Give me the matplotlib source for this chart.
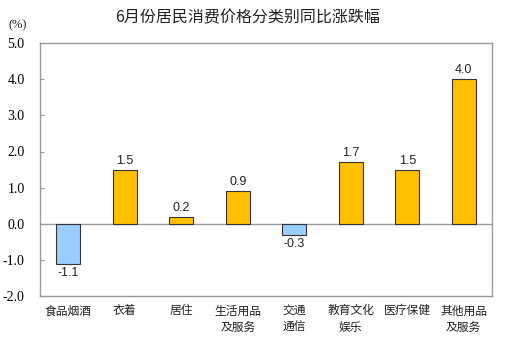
import matplotlib
matplotlib.use("Agg")
import matplotlib.pyplot as plt

categories = ["食品烟酒", "衣着", "居住", "生活用品\n及服务", "交通\n通信", "教育文化\n娱乐", "医疗保健", "其他用品\n及服务"]
values = [-1.1, 1.5, 0.2, 0.9, -0.3, 1.7, 1.5, 4.0]
yticks = [-2.0, -1.0, 0.0, 1.0, 2.0, 3.0, 4.0, 5.0]
title = "6月份居民消费价格分类别同比涨跌幅"

cjk = ["Noto Sans CJK SC", "DejaVu Sans"]
plt.rcParams['font.family'] = cjk

fig = plt.figure(figsize=(5.09, 3.5), dpi=100)
ax = fig.add_axes([0.0786, 0.154, 0.888, 0.723])

x = list(range(len(values)))
colors = ["#FFC000" if v >= 0 else "#99CCFF" for v in values]
ax.bar(x, values, width=0.42, color=colors, edgecolor="#333333", linewidth=0.8, zorder=3)

for xi, v in zip(x, values):
    if v >= 0:
        ax.text(xi, v + 0.08, f"{v:.1f}", ha="center", va="bottom", fontsize=9,
                family=["Liberation Sans"], color="#222222")
    else:
        ax.text(xi, v - 0.1, f"{v:.1f}", ha="center", va="top", fontsize=9,
                family=["Liberation Sans"], color="#222222")

ax.axhline(0, color="#999999", linewidth=1.0, zorder=2)
ax.set_xlim(-0.5, len(values) - 0.5)
ax.set_ylim(-2, 5)
ax.set_yticks(yticks)
ax.set_yticklabels([f"{t:.1f}" for t in yticks], family=["Liberation Serif"], fontsize=10)
ax.set_xticks(x)
ax.set_xticklabels(categories, fontsize=8.5, linespacing=1.35, color="#222222")
ax.tick_params(axis="x", length=0, pad=6)
ax.tick_params(axis="y", length=3, direction="in", color="#999999", pad=11)
for s in ax.spines.values():
    s.set_color("#999999")
    s.set_linewidth(1.0)

fig.text(0.487, 0.95, title, ha="center", va="center", fontsize=11.5, color="#222222")
fig.text(0.016, 0.928, "(%)", ha="left", va="center", fontsize=9, family=["Liberation Serif"], color="#222222")

fig.savefig("out.png", dpi=100, facecolor="white")
